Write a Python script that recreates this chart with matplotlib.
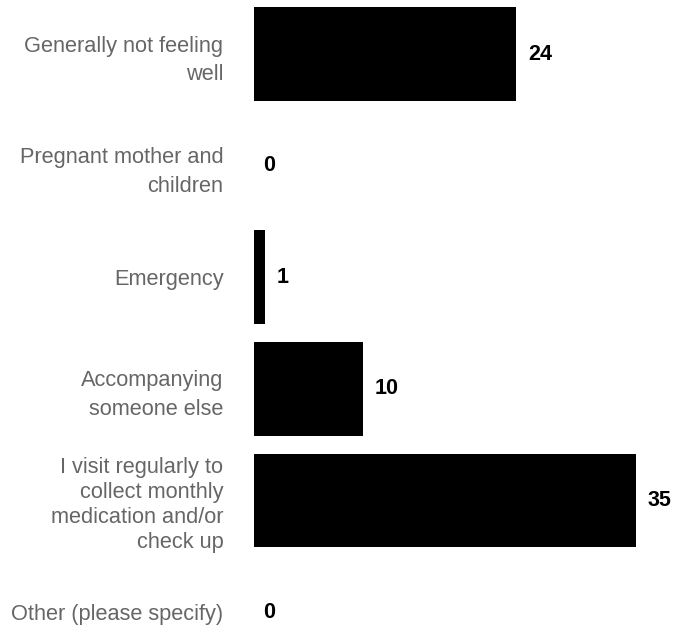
import numpy as np
import matplotlib.pyplot as plt

plt.rcParams['font.family'] = ['Liberation Sans', 'DejaVu Sans']

categories = ["Generally not feeling\nwell",
              "Pregnant mother and\nchildren",
              "Emergency",
              "Accompanying\nsomeone else",
              "I visit regularly to\ncollect monthly\nmedication and/or\ncheck up",
              "Other (please specify)"]
counts = [24, 0, 1, 10, 35, 0]

fig = plt.figure(figsize=(6.9, 6.3), dpi=100)
# axes spans the full height; bars on the right of the labels
ax = fig.add_axes([254 / 690, 0, 382 / 690, 1])

y = np.arange(len(categories))
ax.barh(y, counts, height=0.84, color='black')
ax.set_xlim(0, 35)
ax.set_ylim(5.161, -0.484)

ax.set_yticks(y)
ax.set_yticklabels(categories, fontsize=15.7, color='#666666')
# two-line labels are spaced wider than the four-line one
for lab in ax.get_yticklabels():
    n = lab.get_text().count('\n') + 1
    lab.set_linespacing(1.24 if n > 2 else 1.48)
ax.tick_params(axis='y', length=0, pad=22)
ax.set_xticks([])
for s in ax.spines.values():
    s.set_visible(False)

for yi, v in zip(y, counts):
    ax.annotate(str(v), (v, yi), xytext=(8.6 if v > 0 else 6.5, 0), textcoords='offset points',
                va='center', ha='left', fontsize=15.5, fontweight='bold', color='black',
                annotation_clip=False)

fig.savefig('out.png', dpi=100)
